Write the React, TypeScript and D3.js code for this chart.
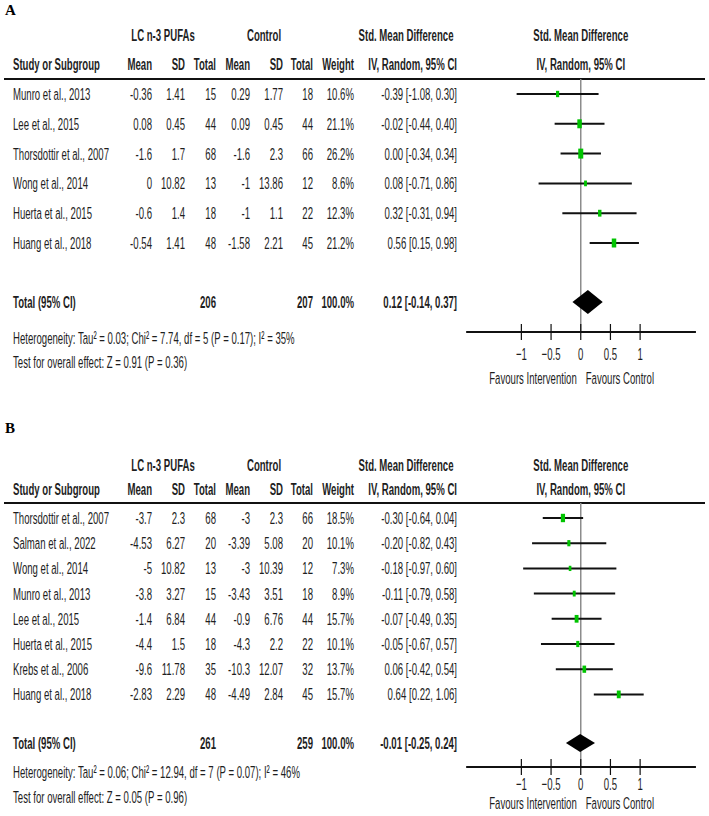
import React from 'react'
import * as d3 from 'd3'

// Panel A: body weight outcome
const studiesA = ['Munro et al., 2013', 'Lee et al., 2015', 'Thorsdottir et al., 2007', 'Wong et al., 2014', 'Huerta et al., 2015', 'Huang et al., 2018']
const pufaMeanA = [-0.36, 0.08, -1.6, 0, -0.6, -0.54]
const pufaSdA = [1.41, 0.45, 1.7, 10.82, 1.4, 1.41]
const pufaNA = [15, 44, 68, 13, 18, 48]
const ctrlMeanA = [0.29, 0.09, -1.6, -1, -1, -1.58]
const ctrlSdA = [1.77, 0.45, 2.3, 13.86, 1.1, 2.21]
const ctrlNA = [18, 44, 66, 12, 22, 45]
const weightA = [10.6, 21.1, 26.2, 8.6, 12.3, 21.2]
const smdA = [-0.39, -0.02, 0.0, 0.08, 0.32, 0.56]
const lowA = [-1.08, -0.44, -0.34, -0.71, -0.31, 0.15]
const highA = [0.3, 0.4, 0.34, 0.86, 0.94, 0.98]
const pooledA = [0.12, -0.14, 0.37]
const hetA = 'Heterogeneity: Tau² = 0.03; Chi² = 7.74, df = 5 (P = 0.17); I² = 35%'
const testA = 'Test for overall effect: Z = 0.91 (P = 0.36)'

// Panel B
const studiesB = ['Thorsdottir et al., 2007', 'Salman et al., 2022', 'Wong et al., 2014', 'Munro et al., 2013', 'Lee et al., 2015', 'Huerta et al., 2015', 'Krebs et al., 2006', 'Huang et al., 2018']
const pufaMeanB = [-3.7, -4.53, -5, -3.8, -1.4, -4.4, -9.6, -2.83]
const pufaSdB = [2.3, 6.27, 10.82, 3.27, 6.84, 1.5, 11.78, 2.29]
const pufaNB = [68, 20, 13, 15, 44, 18, 35, 48]
const ctrlMeanB = [-3, -3.39, -3, -3.43, -0.9, -4.3, -10.3, -4.49]
const ctrlSdB = [2.3, 5.08, 10.39, 3.51, 6.76, 2.2, 12.07, 2.84]
const ctrlNB = [66, 20, 12, 18, 44, 22, 32, 45]
const weightB = [18.5, 10.1, 7.3, 8.9, 15.7, 10.1, 13.7, 15.7]
const smdB = [-0.3, -0.2, -0.18, -0.11, -0.07, -0.05, 0.06, 0.64]
const lowB = [-0.64, -0.82, -0.97, -0.79, -0.49, -0.67, -0.42, 0.22]
const highB = [0.04, 0.43, 0.6, 0.58, 0.35, 0.57, 0.54, 1.06]
const pooledB = [-0.01, -0.25, 0.24]
const hetB = 'Heterogeneity: Tau² = 0.06; Chi² = 12.94, df = 7 (P = 0.07); I² = 46%'
const testB = 'Test for overall effect: Z = 0.05 (P = 0.96)'

const tickValues = [-1, -0.5, 0, 0.5, 1]

const SX = 0.565
const FONT = 17
const INK = '#1e1e1e'
const colRight = [152, 185, 216, 250, 283, 313, 354]
const ciRight = 457

const x = d3.scaleLinear().domain([-2, 2]).range([462, 699.5])

function T({ x, y, anchor = 'start', bold = false, children }) {
  return (
    <text
      transform={`translate(${x},${y}) scale(${SX},1)`}
      textAnchor={anchor}
      fontWeight={bold ? 'bold' : 'normal'}
      fontSize={FONT}
      fill={INK}
    >
      {children}
    </text>
  )
}

const ci = (m, l, h) => `${m.toFixed(2)} [${l.toFixed(2)}, ${h.toFixed(2)}]`

function Panel({ d, lay }) {
  const rowY = (i) => lay.row0 + i * lay.rowStep
  const [pm, pl, ph] = d.pooled
  const tickLabel = d3.format('')
  return (
    <g>
      <text x={5} y={lay.letterY} fontFamily="'Liberation Serif', serif" fontWeight="bold" fontSize={15} fill="#000">
        {lay.letter}
      </text>

      {/* group headers */}
      <T x={163} y={lay.h1Y} anchor="middle" bold>LC n-3 PUFAs</T>
      <T x={264} y={lay.h1Y} anchor="middle" bold>Control</T>
      <T x={406} y={lay.h1Y} anchor="middle" bold>Std. Mean Difference</T>
      <T x={x(0)} y={lay.h1Y} anchor="middle" bold>Std. Mean Difference</T>

      <T x={13} y={lay.h2Y} bold>Study or Subgroup</T>
      {['Mean', 'SD', 'Total', 'Mean', 'SD', 'Total', 'Weight'].map((h, i) => (
        <T key={i} x={colRight[i]} y={lay.h2Y} anchor="end" bold>{h}</T>
      ))}
      <T x={ciRight} y={lay.h2Y} anchor="end" bold>IV, Random, 95% CI</T>
      <T x={x(0)} y={lay.h2Y} anchor="middle" bold>IV, Random, 95% CI</T>

      <line x1={4} x2={705} y1={lay.lineY} y2={lay.lineY} stroke="#111" strokeWidth={2} />

      {/* zero line */}
      <line x1={x(0)} x2={x(0)} y1={lay.lineY} y2={lay.axisY} stroke="#8c8c8c" strokeWidth={1.5} />

      {d.studies.map((s, i) => {
        const y = rowY(i)
        const h = 1.95 * Math.sqrt(d.weight[i])
        const w = h * 0.5
        const cells = [d.pm[i], d.psd[i], d.pn[i], d.cm[i], d.csd[i], d.cn[i]].map(String)
        cells.push(d.weight[i].toFixed(1) + '%')
        return (
          <g key={s}>
            <T x={13} y={y + 6}>{s}</T>
            {cells.map((c, j) => (
              <T key={j} x={colRight[j]} y={y + 6} anchor="end">{c}</T>
            ))}
            <T x={ciRight} y={y + 6} anchor="end">{ci(d.smd[i], d.low[i], d.high[i])}</T>
            <line x1={x(d.low[i])} x2={x(d.high[i])} y1={y} y2={y} stroke="#111" strokeWidth={2} />
            <rect x={x(d.smd[i]) - w / 2} y={y - h / 2} width={w} height={h} fill="#00c400" />
          </g>
        )
      })}

      {/* pooled estimate */}
      <T x={13} y={lay.totalY + 6} bold>Total (95% CI)</T>
      <T x={colRight[2]} y={lay.totalY + 6} anchor="end" bold>{d3.sum(d.pn)}</T>
      <T x={colRight[5]} y={lay.totalY + 6} anchor="end" bold>{d3.sum(d.cn)}</T>
      <T x={colRight[6]} y={lay.totalY + 6} anchor="end" bold>{d3.sum(d.weight).toFixed(1) + '%'}</T>
      <T x={ciRight} y={lay.totalY + 6} anchor="end" bold>{ci(pm, pl, ph)}</T>
      <path
        d={`M${x(pl)},${lay.totalY} L${x(pm)},${lay.totalY - lay.diamondH} L${x(ph)},${lay.totalY} L${x(pm)},${lay.totalY + lay.diamondH} Z`}
        fill="#000"
      />

      <T x={13} y={lay.hetY}>{d.het}</T>
      <T x={13} y={lay.testY}>{d.test}</T>

      {/* axis */}
      <line x1={x(-1.93)} x2={x(1.94)} y1={lay.axisY} y2={lay.axisY} stroke="#111" strokeWidth={2} />
      {tickValues.map((t) => (
        <g key={t}>
          <line x1={x(t)} x2={x(t)} y1={lay.axisY - 8} y2={lay.axisY + 8} stroke="#111" strokeWidth={1.2} />
          <T x={x(t)} y={lay.tickY} anchor="middle">{tickLabel(t)}</T>
        </g>
      ))}
      <T x={x(0) - 4} y={lay.favY} anchor="end">Favours Intervention</T>
      <T x={x(0) + 5} y={lay.favY}>Favours Control</T>
    </g>
  )
}

const dataA = {
  studies: studiesA, pm: pufaMeanA, psd: pufaSdA, pn: pufaNA, cm: ctrlMeanA, csd: ctrlSdA, cn: ctrlNA,
  weight: weightA, smd: smdA, low: lowA, high: highA, pooled: pooledA, het: hetA, test: testA,
}
const dataB = {
  studies: studiesB, pm: pufaMeanB, psd: pufaSdB, pn: pufaNB, cm: ctrlMeanB, csd: ctrlSdB, cn: ctrlNB,
  weight: weightB, smd: smdB, low: lowB, high: highB, pooled: pooledB, het: hetB, test: testB,
}

const layA = { letter: 'A', letterY: 15, h1Y: 41, h2Y: 70, lineY: 79, row0: 94, rowStep: 29.8, totalY: 302, hetY: 344, testY: 368, axisY: 332, tickY: 360, favY: 384, diamondH: 12 }
const layB = { letter: 'B', letterY: 433, h1Y: 471, h2Y: 495, lineY: 503, row0: 518, rowStep: 25.2, totalY: 743, hetY: 778, testY: 803, axisY: 767, tickY: 790, favY: 809, diamondH: 9 }

export default function App() {
  return (
    <svg
      width={709}
      height={816}
      style={{ position: 'absolute', left: 0, top: 0, background: '#fff' }}
      fontFamily="'Liberation Sans', Arial, sans-serif"
    >
      <rect width={709} height={816} fill="#fff" />
      <Panel d={dataA} lay={layA} />
      <Panel d={dataB} lay={layB} />
    </svg>
  )
}
